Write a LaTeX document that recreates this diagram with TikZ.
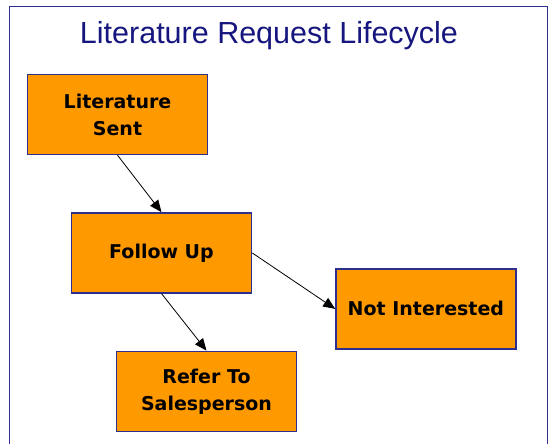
\documentclass[tikz,border=0pt]{standalone}
\usepackage{fontspec}
\setmainfont{Liberation Sans}
\newfontfamily\boxfont{DejaVu Sans}
\usepackage{xcolor}
\usepackage{tikz}
\usetikzlibrary{arrows.meta,positioning}
\definecolor{stfill}{HTML}{FF9900}
\definecolor{stedge}{HTML}{2E2E8C}
\definecolor{ttlblue}{HTML}{16167E}
\tikzset{
  stage/.style ={draw=stedge, line width=1.4pt, fill=stfill, align=center,
                 minimum width=180pt, minimum height=80pt, inner sep=0pt,
                 font=\boxfont\bfseries\fontsize{19}{27}\selectfont},
  arr/.style   ={-{Triangle[length=12pt,width=10pt]}, line width=0.8pt, draw=black},
}

\begin{document}
\begin{tikzpicture}[x=1pt, y=1pt]
  \useasboundingbox (0,0) rectangle (549,444);
  \draw[stedge, line width=1.5pt] (9.5,-10) rectangle (547.5,437.5);
  \node[text=ttlblue, font=\fontsize{30.5}{34}\selectfont] (ttl) at (269,408) {Literature Request Lifecycle};
  \node[stage] (lit) at (117.5,329.5) {Literature\\Sent};
  \node[stage, below=57pt of lit, xshift=44pt] (fol) {Follow Up};
  \node[stage, right=83pt of fol, yshift=-56pt] (noti) {Not Interested};
  \node[stage, below=57pt of fol, xshift=45pt] (ref) {Refer To\\Salesperson};
  \draw[arr] (lit.south) -- (fol.north);
  \draw[arr] (fol.east) -- (noti.west);
  \draw[arr] (fol.south) -- (ref.north);
\end{tikzpicture}
\end{document}
